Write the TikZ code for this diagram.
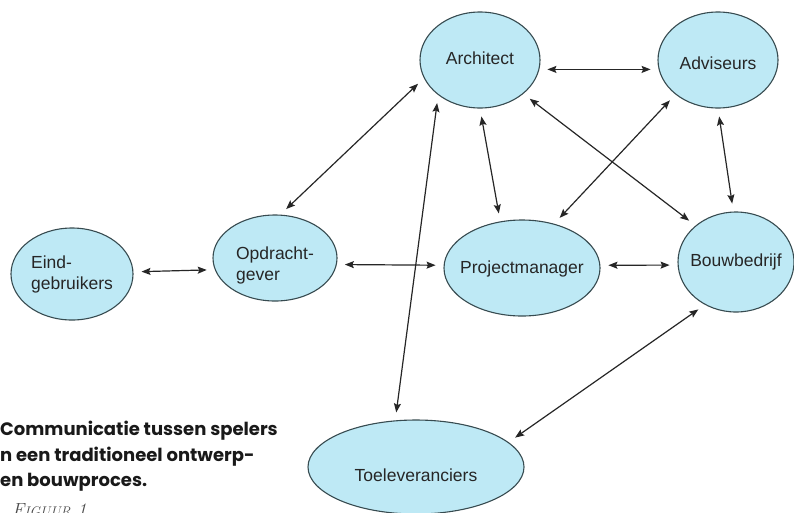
\documentclass[tikz,border=0pt]{standalone}
\usepackage{fontspec}
\setsansfont{Liberation Sans}
\newfontfamily\capfont{Poppins}
\usetikzlibrary{shapes.geometric,arrows.meta}
\definecolor{bubblefill}{RGB}{190,233,245}
\definecolor{bubbleline}{RGB}{55,75,80}
\newcommand{\ntxt}[2][0pt]{\raisebox{#1}[0pt][0pt]{\makebox[0pt]{#2}}}

\begin{document}
\begin{tikzpicture}[x=1pt, y=-1pt,
    bubble/.style={ellipse, draw=bubbleline, line width=1.1pt, fill=bubblefill, inner sep=0pt,
      font=\sffamily\fontsize{17.5}{21}\selectfont, text=black!85},
    link/.style={<->, >={Stealth[length=9pt,width=7pt,inset=1.5pt]}, line width=1.2pt, black!85,
      shorten >=8pt, shorten <=8pt}]
  \useasboundingbox (0,0) rectangle (794,512);
  \clip (0,0) rectangle (794,512);

  \node[bubble, minimum width=122, minimum height=92] (eind) at (72,274)
    {\ntxt[-5pt]{\begin{tabular}{@{}l@{}}Eind-\\gebruikers\end{tabular}}};
  \node[bubble, minimum width=124, minimum height=86] (opdr) at (275,258)
    {\ntxt[-12pt]{\begin{tabular}{@{}l@{}}Opdracht-\\gever\end{tabular}}};
  \node[bubble, minimum width=120, minimum height=96] (arch) at (480,60) {\ntxt[-4.3pt]{Architect}};
  \node[bubble, minimum width=120, minimum height=96] (adv) at (718,60) {\ntxt[-9.3pt]{Adviseurs}};
  \node[bubble, minimum width=156, minimum height=96] (pm) at (522,268) {\ntxt[-5.3pt]{Projectmanager}};
  \node[bubble, minimum width=116, minimum height=100] (bouw) at (736,262) {\ntxt[-4.3pt]{Bouwbedrijf}};
  \node[bubble, minimum width=216, minimum height=94] (toel) at (416,467) {\ntxt[-14.3pt]{Toeleveranciers}};

  \draw[link] (eind.2) -- (opdr.191);
  \draw[link] (opdr.-6) -- (pm.178);
  \draw[link] (pm.2) -- (bouw.183);
  \draw[link] (arch.-9) -- (adv.189);
  \draw[link] (opdr.83) -- (arch.198);
  \draw[link] (arch.220) -- (toel.114);
  \draw[link] (arch.270) -- (pm.115);
  \draw[link] (arch.-38) -- (bouw.138);
  \draw[link] (adv.219) -- (pm.54);
  \draw[link] (adv.270) -- (bouw.93);
  \draw[link] (bouw.234) -- (toel.15);

  \node[anchor=north west, align=left, inner sep=0pt, text=black!90,
    font=\capfont\bfseries\fontsize{18}{25.5}\selectfont] (caption) at (0,421)
    {Communicatie tussen spelers\\n een traditioneel ontwerp-\\en bouwproces.};
  \node[anchor=base west, inner sep=0pt, text=black!70,
    font=\itshape\fontsize{19}{19}\selectfont] (figlabel) at (12,516)
    {F{\fontsize{14}{14}\selectfont IGUUR} 1};
\end{tikzpicture}
\end{document}
